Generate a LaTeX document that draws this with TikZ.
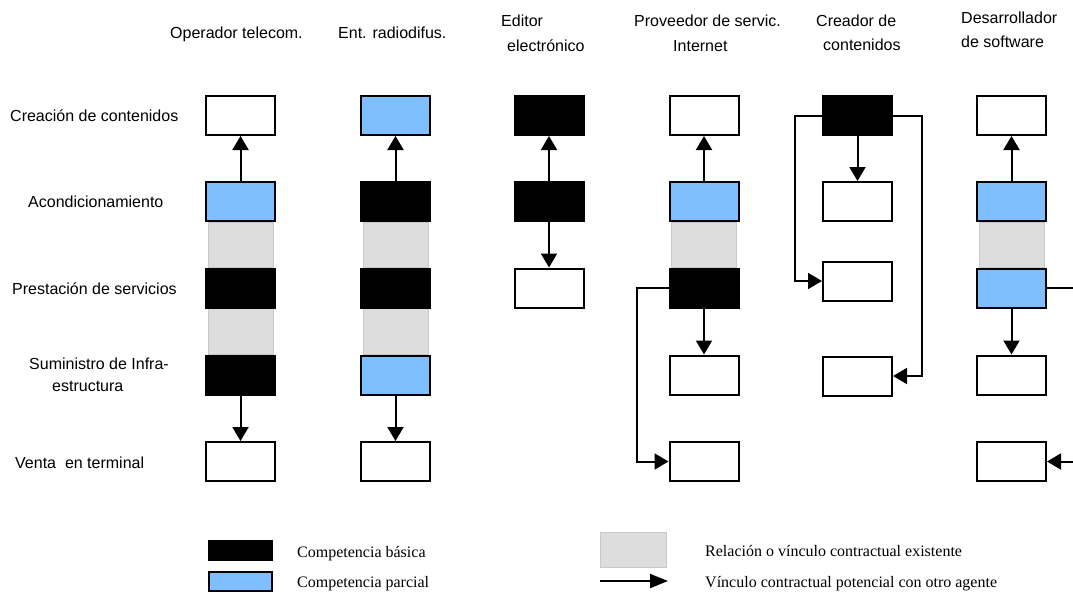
\documentclass[tikz,border=0pt]{standalone}
\usepackage{fontspec}
\setmainfont{Liberation Serif}
\setsansfont{Liberation Sans}
\usetikzlibrary{arrows.meta,backgrounds,calc}
\definecolor{blu}{HTML}{80BFFF}
\definecolor{band}{HTML}{DDDDDD}
\definecolor{bandedge}{HTML}{C8C8C8}
\begin{document}
\begin{tikzpicture}[x=1pt,y=-1pt,
  box/.style={draw=black,line width=2pt,minimum width=69pt,minimum height=39pt,inner sep=0pt},
  wbox/.style={box,fill=white},
  kbox/.style={box,fill=black},
  bbox/.style={box,fill=blu},
  lbl/.style={font=\sffamily\fontsize{16}{19}\selectfont,anchor=base west,inner sep=0pt},
  leg/.style={font=\rmfamily\fontsize{16}{19}\selectfont,anchor=base west,inner sep=0pt},
  arr/.style={line width=2pt,-{Triangle[length=14pt,width=16pt]}},
  bandst/.style={fill=band,draw=bandedge,line width=0.8pt}]
\clip (0,0) rectangle (1073,592);
\useasboundingbox (0,0) rectangle (1073,592);

% headers
\node[lbl] (h1) at (170,38) {Operador telecom.};
\node[lbl] (h2) at (338,38) {Ent. radiodifus.};
\node[lbl] (h3a) at (501,26) {Editor};
\node[lbl] (h3b) at (507,51.5) {electrónico};
\node[lbl] (h4a) at (634,26) {Proveedor de servic.};
\node[lbl] (h4b) at (673,51.5) {Internet};
\node[lbl] (h5a) at (816,26) {Creador de};
\node[lbl] (h5b) at (823,50.5) {contenidos};
\node[lbl] (h6a) at (961,23.5) {Desarrollador};
\node[lbl] (h6b) at (961,47) {de software};

% row labels
\node[lbl] (r1) at (10,121) {Creación de contenidos};
\node[lbl] (r2) at (28,207) {Acondicionamiento};
\node[lbl] (r3) at (12,294) {Prestación de servicios};
\node[lbl] (r4a) at (29,369) {Suministro de Infra-};
\node[lbl] (r4b) at (52,391.5) {estructura};
\node[lbl] (r5) at (15,468) {Venta\ \ en terminal};

% column 1
\node[wbox] (cr1) at (240.5,115.5) {};
\node[bbox] (ac1) at (240.5,201.5) {};
\node[kbox] (pr1) at (240.5,288) {};
\node[kbox] (su1) at (240.5,375) {};
\node[wbox] (ve1) at (240.5,461.5) {};
% column 2
\node[bbox] (cr2) at (395.5,115.5) {};
\node[kbox] (ac2) at (395.5,201.5) {};
\node[kbox] (pr2) at (395.5,288) {};
\node[bbox] (su2) at (395.5,375) {};
\node[wbox] (ve2) at (395.5,461.5) {};
% column 3
\node[kbox] (cr3) at (549,115.5) {};
\node[kbox] (ac3) at (549,201.5) {};
\node[wbox] (pr3) at (549,288) {};
% column 4
\node[wbox] (cr4) at (704,115.5) {};
\node[bbox] (ac4) at (704,201.5) {};
\node[kbox] (pr4) at (704,288) {};
\node[wbox] (su4) at (704,375) {};
\node[wbox] (ve4) at (704,461.5) {};
% column 5
\node[kbox] (cr5) at (857.5,115.5) {};
\node[wbox] (ac5) at (857.5,201.5) {};
\node[wbox] (pr5) at (857.5,281) {};
\node[wbox] (su5) at (857.5,376) {};
% column 6
\node[wbox] (cr6) at (1011.5,115.5) {};
\node[bbox] (ac6) at (1011.5,201.5) {};
\node[bbox] (pr6) at (1011.5,288) {};
\node[wbox] (su6) at (1011.5,375) {};
\node[wbox] (ve6) at (1011.5,461.5) {};

% existing relations (grey bands)
\begin{scope}[on background layer]
\draw[bandst] ($(ac1.south west)+(3,0)$) rectangle ($(pr1.north east)+(-3,0)$);
\draw[bandst] ($(pr1.south west)+(3,0)$) rectangle ($(su1.north east)+(-3,0)$);
\draw[bandst] ($(ac2.south west)+(3,0)$) rectangle ($(pr2.north east)+(-3,0)$);
\draw[bandst] ($(pr2.south west)+(3,0)$) rectangle ($(su2.north east)+(-3,0)$);
\draw[bandst] ($(ac4.south west)+(3,0)$) rectangle ($(pr4.north east)+(-3,0)$);
\draw[bandst] ($(ac6.south west)+(3,0)$) rectangle ($(pr6.north east)+(-3,0)$);
\end{scope}

% potential links
\draw[arr] (ac1) -- (cr1);
\draw[arr] (su1) -- (ve1);
\draw[arr] (ac2) -- (cr2);
\draw[arr] (su2) -- (ve2);
\draw[arr] (ac3) -- (cr3);
\draw[arr] (ac3) -- (pr3);
\draw[arr] (ac4) -- (cr4);
\draw[arr] (pr4) -- (su4);
\draw[arr] (pr4.west) -- ++(-32,0) |- (ve4.west);
\draw[arr] (cr5) -- (ac5);
\draw[arr] (cr5.west) -- ++(-27,0) |- (pr5.west);
\draw[arr] (cr5.east) -- ++(29,0) |- (su5.east);
\draw[arr] (ac6) -- (cr6);
\draw[arr] (pr6) -- (su6);
\draw[arr] (pr6.east) -- ++(70,0) |- (ve6.east);

% legend
\node[kbox,minimum width=63pt,minimum height=19pt] (lk) at (240.5,550.5) {};
\node[bbox,minimum width=63pt,minimum height=19pt,line width=1.5pt] (lb) at (240.5,581.5) {};
\node[leg] (lkt) at (297,557) {Competencia básica};
\node[leg] (lbt) at (297,587) {Competencia parcial};
\node[bandst,minimum width=66pt,minimum height=35pt,inner sep=0pt] (lg) at (633.5,550) {};
\coordinate (la1) at (600,581);
\coordinate (la2) at (668,581);
\draw[line width=2pt,-{Triangle[length=18pt,width=14pt]}] (la1) -- (la2);
\node[leg] (lgt) at (705,556) {Relación o vínculo contractual existente};
\node[leg] (lat) at (705,587) {Vínculo contractual potencial con otro agente};
\end{tikzpicture}
\end{document}
